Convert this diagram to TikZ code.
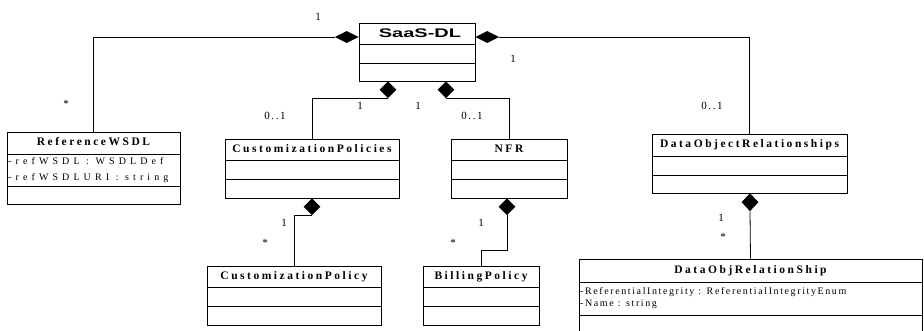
\documentclass[tikz,border=0pt]{standalone}
\usepackage{fontspec}
\usepackage{graphicx}
\setmainfont{Liberation Serif}
\newfontfamily\clsfont[LetterSpace=22]{Liberation Serif}
\newfontfamily\attfont[LetterSpace=16]{Liberation Serif}
\newfontfamily\attwidefont[LetterSpace=41]{Liberation Serif}
\newfontfamily\mulfont[LetterSpace=15]{Liberation Serif}
\newfontfamily\headfont{Liberation Sans}
\usetikzlibrary{fit,shapes.geometric,calc}

\tikzset{
  box/.style={draw, line width=1pt, inner sep=0pt},
  sep/.style={line width=1pt},
  cname/.style={inner sep=0pt, text height=7.5pt, text depth=2pt,
    font=\clsfont\bfseries\fontsize{11.5}{13}\selectfont},
  attr/.style={inner sep=0pt, anchor=west, text height=7pt, text depth=2pt,
    font=\attfont\fontsize{10}{11}\selectfont},
  wideattr/.style={attr, font=\attwidefont\fontsize{10}{11}\selectfont},
  mult/.style={inner sep=0pt, anchor=base, font=\mulfont\fontsize{11}{12}\selectfont},
  hdia/.style={diamond, fill=black, inner sep=0pt, minimum width=24pt, minimum height=12pt},
  vdia/.style={diamond, fill=black, inner sep=0pt, minimum width=17pt, minimum height=17pt},
  link/.style={line width=0.8pt},
}

% #1 node name, #2 left, #3 right, #4 top, #5 first rule, #6 second rule, #7 bottom, #8 class name
\newcommand\umlclass[8]{%
  \node[box, fit={(#2,#4) (#3,#7)}] (#1) {};
  \draw[sep] (#2,#5) -- (#3,#5);
  \draw[sep] (#2,#6) -- (#3,#6);
  \node[cname] (#1-title) at ($(#2,#4)!0.5!(#3,#5)$) {#8};
}

\begin{document}
\begin{tikzpicture}[x=1pt, y=-1pt]
\clip (0,0) rectangle (924,330);

% root class
\node[box, fit={(359,23) (475,81)}] (saas) {};
\draw[sep] (359,44) -- (475,44);
\draw[sep] (359,63) -- (475,63);
\node[inner sep=0pt, font=\headfont\bfseries\fontsize{12.5}{14}\selectfont] (saas-title)
  at (420,33.5) {\scalebox{1.6}[1]{SaaS-DL}};

% classes
\umlclass{refw}{7}{180}{132}{154}{186}{204}{ReferenceWSDL}
\node[wideattr] (refw-a1) at (8,162) {-refWSDL : WSDLDef};
\node[wideattr] (refw-a2) at (8,177.5) {-refWSDLURI : string};

\umlclass{cps}{225}{399}{139}{160}{179}{198}{CustomizationPolicies}
\umlclass{nfr}{451}{567}{139}{160}{179}{198}{NFR}
\umlclass{dors}{652}{847}{134}{156}{175}{193}{DataObjectRelationships}
\umlclass{cp}{207}{381}{266}{287}{306}{325}{CustomizationPolicy}
\umlclass{bp}{423}{539}{266}{287}{306}{325}{BillingPolicy}
\umlclass{dor}{579}{922}{259}{282}{315}{336}{DataObjRelationShip}
\node[attr] (dor-a1) at (580,292) {-ReferentialIntegrity : ReferentialIntegrityEnum};
\node[attr] (dor-a2) at (580,304) {-Name : string};

% composition diamonds
\node[hdia, anchor=east] (dl) at (359,37) {};
\node[hdia, anchor=west] (dr) at (475,37) {};
\node[vdia, anchor=north] (db1) at (388,81) {};
\node[vdia, anchor=north] (db2) at (446,81) {};
\node[vdia, anchor=north] (dc) at (312,198) {};
\node[vdia, anchor=north] (dn) at (507,198) {};
\node[vdia, anchor=north, minimum height=18pt] (dd) at (750,193) {};

% connectors
\draw[link] (dl.west) -| (refw.north);
\draw[link] (dr.east) -| (dors.north);
\draw[link] (db1.south) -| (cps.north);
\draw[link] (db2.south) -| (nfr.north);
\draw[link] (dc.south) -| (cp.north);
\coordinate (nbend) at (507,250);
\draw[link] (dn.south) -- (nbend) -| (bp.north);
\draw[link] (dd.south) -- (dor.north);

% multiplicities
\node[mult] (m1) at (318,20) {1};
\node[mult] (m2) at (66,107) {*};
\node[mult] (m3) at (513,62) {1};
\node[mult] (m4) at (712,109) {0..1};
\node[mult] (m5) at (360,109) {1};
\node[mult] (m6) at (275,119) {0..1};
\node[mult] (m7) at (418,109) {1};
\node[mult] (m8) at (472,119) {0..1};
\node[mult] (m9) at (284,226) {1};
\node[mult] (m10) at (265,246) {*};
\node[mult] (m11) at (481,226) {1};
\node[mult] (m12) at (453,246) {*};
\node[mult] (m13) at (721,221) {1};
\node[mult] (m14) at (723,240) {*};
\end{tikzpicture}
\end{document}
